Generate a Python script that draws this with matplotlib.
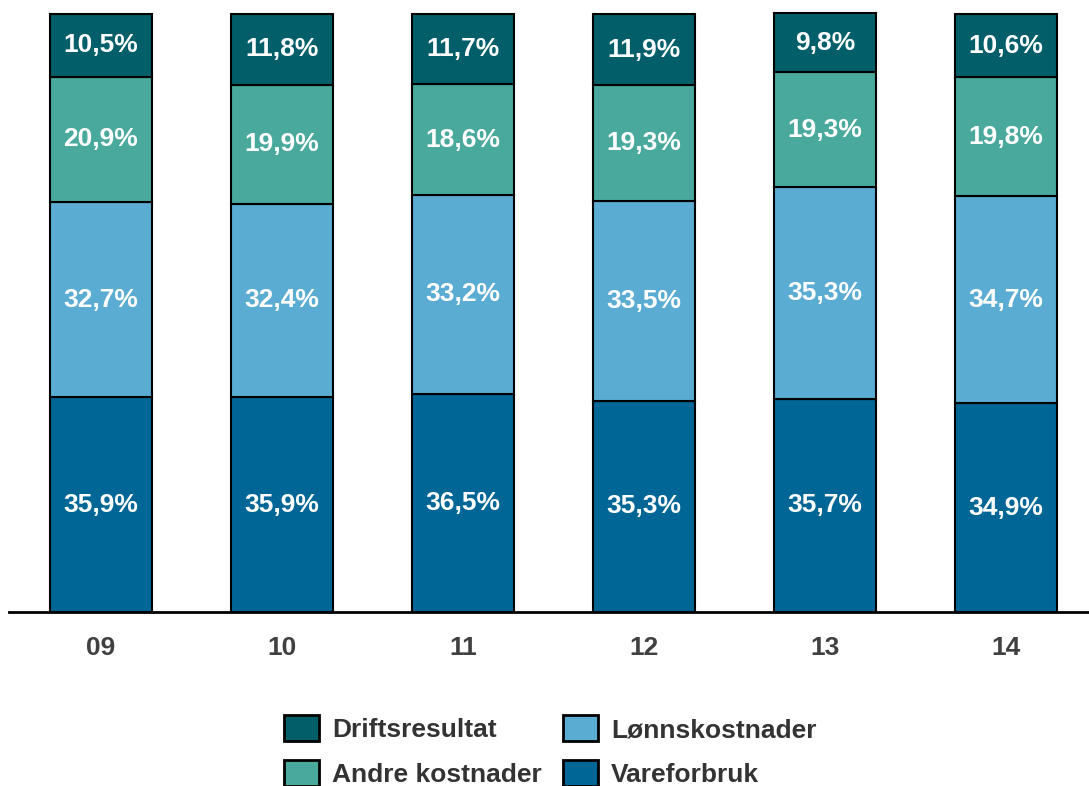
import matplotlib
matplotlib.use("Agg")
import matplotlib.pyplot as plt
import numpy as np

years = ["09", "10", "11", "12", "13", "14"]
vareforbruk = [35.9, 35.9, 36.5, 35.3, 35.7, 34.9]
lonnskostnader = [32.7, 32.4, 33.2, 33.5, 35.3, 34.7]
andre_kostnader = [20.9, 19.9, 18.6, 19.3, 19.3, 19.8]
driftsresultat = [10.5, 11.8, 11.7, 11.9, 9.8, 10.6]

series = [
    ("Vareforbruk", vareforbruk, "#006695"),
    ("Lønnskostnader", lonnskostnader, "#5BACD3"),
    ("Andre kostnader", andre_kostnader, "#48A99C"),
    ("Driftsresultat", driftsresultat, "#025E69"),
]

plt.rcParams['font.family'] = ['Liberation Sans', 'DejaVu Sans']

fig = plt.figure(figsize=(10.89, 7.86), dpi=100)
ax = fig.add_axes([9/1089, (786-612)/786, 1080/1089, 598/786])

x = np.arange(len(years))
bottom = np.zeros(len(years))
handles = {}
for name, vals, color in series:
    vals = np.array(vals)
    bars = ax.bar(x, vals, bottom=bottom, width=0.563, color=color,
                  edgecolor="black", linewidth=1.5, clip_on=False, label=name)
    handles[name] = bars
    for xi, b, v in zip(x, bottom, vals):
        ax.text(xi, b + v/2, f"{v:.1f}".replace(".", ",") + "%",
                ha="center", va="center", color="white",
                fontsize=19, fontweight="bold")
    bottom += vals

ax.set_xlim(-0.508, 5.46)
ax.set_ylim(0, 100)
for s in ["top", "right", "left"]:
    ax.spines[s].set_visible(False)
ax.spines["bottom"].set_linewidth(2)
ax.set_yticks([])
ax.set_xticks(x)
ax.set_xticklabels(years, fontsize=19, fontweight="bold", color="#404040")
ax.tick_params(axis="x", length=0, pad=17)

order = ["Driftsresultat", "Andre kostnader", "Lønnskostnader", "Vareforbruk"]
leg = fig.legend([handles[n] for n in order], order, ncol=2,
                 loc="center", bbox_to_anchor=(550/1089, 1 - 751/786),
                 frameon=False, prop={"size": 19, "weight": "bold"},
                 handlelength=1.33, handleheight=1.13, handletextpad=0.5,
                 columnspacing=0.8, labelspacing=0.68)
for t in leg.get_texts():
    t.set_color("#333333")
for h in leg.legend_handles:
    h.set_linewidth(2)

fig.savefig("out.png", dpi=100)
